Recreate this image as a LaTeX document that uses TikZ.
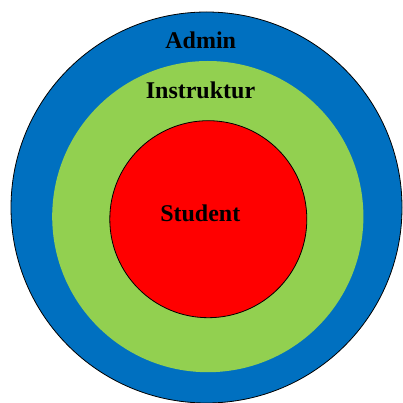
\documentclass[tikz,border=0pt]{standalone}
\usepackage{fontspec}
\setmainfont{Liberation Serif}
\definecolor{ringblue}{HTML}{0070C0}
\definecolor{ringgreen}{HTML}{92D050}
\definecolor{ringred}{HTML}{FF0000}
\begin{document}
\begin{tikzpicture}[x=1pt,y=-1pt,
  lbl/.style={font=\bfseries\fontsize{24}{28}\selectfont, anchor=base, inner sep=0pt, text=black}]
\useasboundingbox (0,0) rectangle (403,403);
\begin{scope}
\clip (0,0) rectangle (403,403);
\fill[ringblue, draw=black, line width=0.8pt] (206.5,207.5) circle[radius=195.5];
\end{scope}
\fill[ringgreen] (207.8,216.6) circle[radius=155.6];
\fill[ringred, draw=black, line width=0.8pt] (208.3,219.2) circle[radius=98.5];
\node[lbl] (admin) at (200.7,49) {Admin};
\node[lbl] (instr) at (200.5,99) {Instruktur};
\node[lbl] (stud) at (200.3,221) {Student};
\end{tikzpicture}
\end{document}
